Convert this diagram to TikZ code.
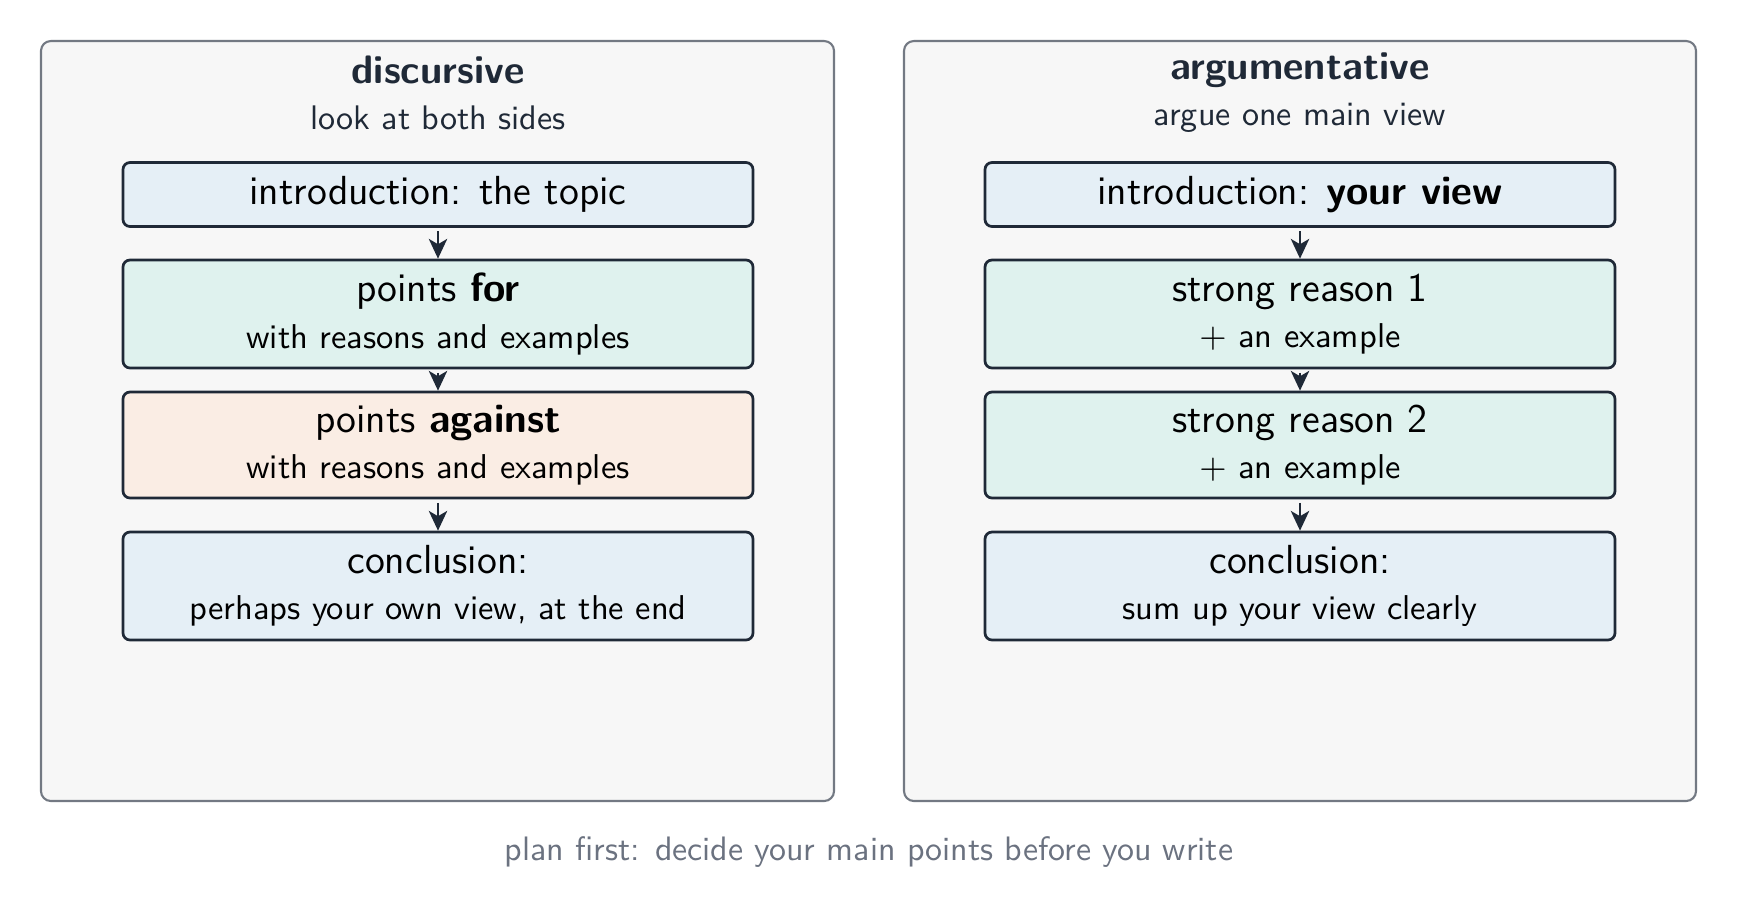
\documentclass[tikz,border=0pt]{standalone}
\usetikzlibrary{arrows.meta,positioning}

\definecolor{panelfill}{HTML}{F7F7F7}
\definecolor{panelline}{HTML}{737983}
\definecolor{inkdark}{HTML}{1F2937}
\definecolor{introblue}{HTML}{E5EFF6}
\definecolor{reasongreen}{HTML}{DFF2EE}
\definecolor{againstpeach}{HTML}{FAEDE4}
\definecolor{notegray}{HTML}{6B7280}

\newcommand{\subline}[1]{{\fontsize{9.8}{13.1}\selectfont #1}}

\begin{document}
\begin{tikzpicture}[
  panel/.style={draw=panelline, fill=panelfill, line width=0.6pt, rounded corners=2.8pt},
  paneltitle/.style={font=\sffamily\bfseries\fontsize{11.3}{13}\selectfont, text=inkdark},
  panelsub/.style={font=\sffamily\fontsize{9.7}{12}\selectfont, text=inkdark},
  stepbox/.style={draw=inkdark, line width=0.77pt, rounded corners=2pt,
    minimum width=6.30cm, align=center, inner sep=0pt,
    font=\sffamily\fontsize{11.55}{13.1}\selectfont},
  flowarrow/.style={-{Stealth[length=5.6pt,width=5.2pt,inset=1.5pt]}, draw=inkdark,
    line width=0.8pt, shorten <=1pt},
  plannote/.style={font=\sffamily\fontsize{9.65}{12}\selectfont, text=notegray},
  ]
  \useasboundingbox (0,0) rectangle (17.38,-9.20);

  % Two panels
  \draw[panel] (0.41,-0.41) rectangle (8.34,-8.01);
  \draw[panel] (9.04,-0.41) rectangle (16.96,-8.01);

  % Discursive plan
  \node[paneltitle] (dtitle) at (4.38,-0.70) {discursive};
  \node[panelsub] (dsub) at (4.38,-1.18) {look at both sides};

  \node[stepbox, fill=introblue, minimum height=0.64cm] (dintro) at (4.38,-1.945)
    {introduction: the topic};
  \node[stepbox, fill=reasongreen, minimum height=1.08cm] (dfor) at (4.38,-3.14)
    {points \textbf{for}\\ \subline{with reasons and examples}};
  \node[stepbox, fill=againstpeach, minimum height=1.06cm] (dagainst) at (4.38,-4.45)
    {points \textbf{against}\\ \subline{with reasons and examples}};
  \node[stepbox, fill=introblue, minimum height=1.08cm] (dend) at (4.38,-5.86)
    {conclusion:\\ \subline{perhaps your own view, at the end}};

  \draw[flowarrow] (dintro) -- (dfor);
  \draw[flowarrow] (dfor) -- (dagainst);
  \draw[flowarrow] (dagainst) -- (dend);

  % Argumentative plan
  \node[paneltitle] (atitle) at (13.00,-0.70) {argumentative};
  \node[panelsub] (asub) at (13.00,-1.18) {argue one main view};

  \node[stepbox, fill=introblue, minimum height=0.64cm] (aintro) at (13.00,-1.945)
    {introduction: \textbf{your view}};
  \node[stepbox, fill=reasongreen, minimum height=1.08cm] (areason) at (13.00,-3.14)
    {strong reason 1\\ \subline{$+$ an example}};
  \node[stepbox, fill=reasongreen, minimum height=1.06cm] (areasontwo) at (13.00,-4.45)
    {strong reason 2\\ \subline{$+$ an example}};
  \node[stepbox, fill=introblue, minimum height=1.08cm] (aend) at (13.00,-5.86)
    {conclusion:\\ \subline{sum up your view clearly}};

  \draw[flowarrow] (aintro) -- (areason);
  \draw[flowarrow] (areason) -- (areasontwo);
  \draw[flowarrow] (areasontwo) -- (aend);

  % Footer
  \node[plannote] (plan) at (8.69,-8.52) {plan first: decide your main points before you write};

\end{tikzpicture}
\end{document}
